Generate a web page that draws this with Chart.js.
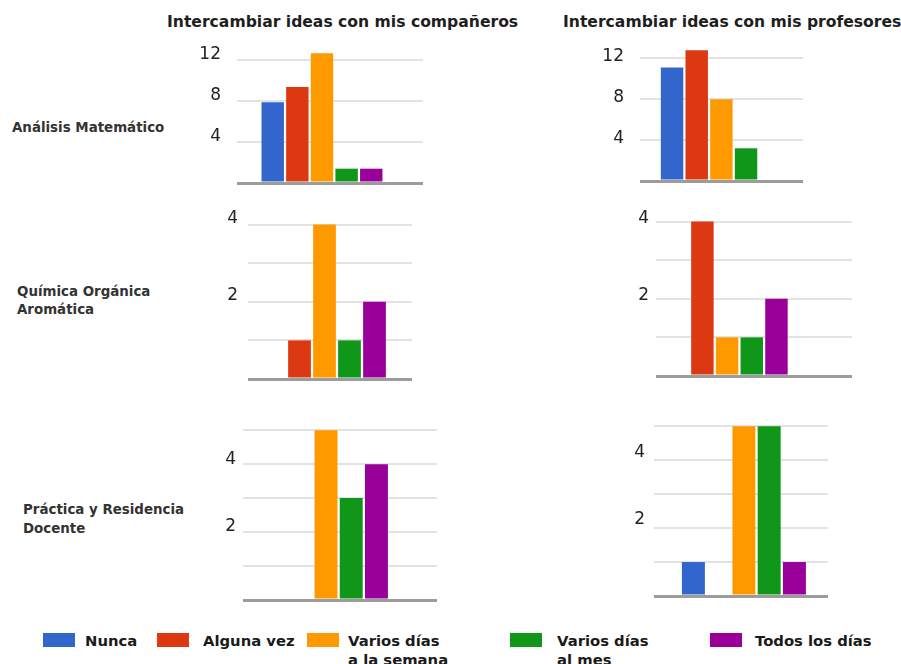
<!DOCTYPE html>
<html><head><meta charset="utf-8">
<script src="https://cdn.jsdelivr.net/npm/chart.js@4.4.1/dist/chart.umd.min.js"></script>
<style>
html,body{margin:0;padding:0;background:#fff;}
#wrap{position:relative;width:901px;height:664px;overflow:hidden;font-family:'DejaVu Sans',Verdana,sans-serif;}
canvas{position:absolute;}
.txt{position:absolute;white-space:nowrap;font-weight:bold;}
.box{position:absolute;}
</style></head><body><div id="wrap"></div>
<script>
// ---- data ----
const seriesNames = ['Nunca', 'Alguna vez', ['Varios días', 'a la semana'], ['Varios días', 'al mes'], 'Todos los días'];
const seriesColors = ['#3366cc', '#dc3912', '#ff9900', '#109618', '#990099'];
const columnTitles = ['Intercambiar ideas con mis compañeros', 'Intercambiar ideas con mis profesores'];
const rowTitles = [['Análisis Matemático'], ['Química Orgánica', 'Aromática'], ['Práctica y Residencia', 'Docente']];

const analisisCompaneros = [7.9, 9.4, 12.7, 1.4, 1.4];
const analisisProfesores = [11.1, 12.8, 8, 3.2, 0];
const quimicaCompaneros = [0, 1, 4, 1, 2];
const quimicaProfesores = [0, 4, 1, 1, 2];
const practicaCompaneros = [0, 0, 5, 3, 4];
const practicaProfesores = [1, 0, 5, 5, 1];

const topRowTicks = [4, 8, 12];
const lowerRowTicks = [2, 4];

// ---- layout (positions / styles) ----
const panels = [
  {values: analisisCompaneros, gridLeft: 237, gridRight: 423, baseline: 183, unit: 10.2, ymax: 13.5, step: 4, labels: topRowTicks, labelPad: 16, labelOffset: -6, xMin: -1.45, xMax: 6.10},
  {values: analisisProfesores, gridLeft: 640, gridRight: 803, baseline: 181, unit: 10.2, ymax: 13.5, step: 4, labels: topRowTicks, labelPad: 16, labelOffset: -2, xMin: -1.30, xMax: 5.31},
  {values: quimicaCompaneros, gridLeft: 248, gridRight: 412, baseline: 379, unit: 38.5, ymax: 4.3, step: 1, labels: lowerRowTicks, labelPad: 10, labelOffset: -6, xMin: -1.06, xMax: 5.5},
  {values: quimicaProfesores, gridLeft: 656, gridRight: 852, baseline: 376, unit: 38.5, ymax: 4.3, step: 1, labels: lowerRowTicks, labelPad: 7, labelOffset: -3, xMin: -0.88, xMax: 7.06},
  {values: practicaCompaneros, gridLeft: 243, gridRight: 437, baseline: 600, unit: 34, ymax: 5.3, step: 1, labels: lowerRowTicks, labelPad: 7, labelOffset: -5, xMin: -1.29, xMax: 6.40},
  {values: practicaProfesores, gridLeft: 654, gridRight: 828, baseline: 596, unit: 34, ymax: 5.3, step: 1, labels: lowerRowTicks, labelPad: 9, labelOffset: -8, xMin: -1.56, xMax: 5.33}
];
const titlePos = [{left: 167, top: 12}, {left: 563, top: 12}];
const rowPos = [{left: 12, top: 119, lh: 18}, {left: 17, top: 283, lh: 18}, {left: 23, top: 500, lh: 19}];
const legendPos = [{box: 43, text: 85}, {box: 157, text: 203}, {box: 307, text: 348}, {box: 510, text: 557}, {box: 710, text: 755}];

const wrap = document.getElementById('wrap');

function addText(str, left, top, size, lh, color) {
  const d = document.createElement('div');
  d.className = 'txt';
  d.style.left = left + 'px';
  d.style.top = top + 'px';
  d.style.fontSize = size + 'px';
  d.style.lineHeight = lh + 'px';
  d.style.color = color;
  d.innerHTML = str;
  wrap.appendChild(d);
  return d;
}

columnTitles.forEach((t, i) => addText(t, titlePos[i].left, titlePos[i].top, 15.6, 20, '#1e1e1e'));
rowTitles.forEach((lines, i) => addText(lines.join('<br>'), rowPos[i].left, rowPos[i].top, 13.4, rowPos[i].lh, '#333'));

function makePanel(p) {
  const AX = 50, PT = 30, PB = 30;
  const top = Math.round(p.baseline - p.ymax * p.unit - PT);
  const h = p.baseline - top + PB;
  const w = p.gridRight - p.gridLeft + AX;
  const c = document.createElement('canvas');
  c.width = w; c.height = h;
  c.style.width = w + 'px'; c.style.height = h + 'px';
  c.style.left = (p.gridLeft - AX) + 'px';
  c.style.top = top + 'px';
  wrap.appendChild(c);
  new Chart(c, {
    type: 'bar',
    data: {
      datasets: [{
        data: p.values.map((v, i) => ({x: i, y: v})),
        backgroundColor: seriesColors,
        borderWidth: 0,
        categoryPercentage: 1,
        barPercentage: 0.91
      }]
    },
    options: {
      responsive: false,
      animation: false,
      devicePixelRatio: 1,
      layout: {padding: {top: PT, bottom: PB, left: 0, right: 0}},
      plugins: {legend: {display: false}, tooltip: {enabled: false}},
      scales: {
        x: {type: 'linear', display: false, min: p.xMin, max: p.xMax, offset: false},
        y: {
          min: 0, max: p.ymax,
          border: {display: false},
          grid: {
            drawTicks: false,
            color: ctx => (ctx.tick && ctx.tick.value === 0) ? '#9c9c9c' : '#e3e3e3',
            lineWidth: ctx => (ctx.tick && ctx.tick.value === 0) ? 3 : 2
          },
          ticks: {
            stepSize: p.step,
            includeBounds: false,
            autoSkip: false,
            padding: p.labelPad,
            labelOffset: p.labelOffset,
            color: '#222',
            font: {family: 'DejaVu Sans', size: 17},
            callback: v => p.labels.includes(v) ? String(v) : ''
          },
          afterFit: s => { s.width = AX; }
        }
      }
    }
  });
}
panels.forEach(makePanel);

// legend
seriesNames.forEach((name, i) => {
  const b = document.createElement('div');
  b.className = 'box';
  b.style.left = legendPos[i].box + 'px';
  b.style.top = '633px';
  b.style.width = '32px';
  b.style.height = '14px';
  b.style.background = seriesColors[i];
  wrap.appendChild(b);
  const lines = Array.isArray(name) ? name : [name];
  addText(lines.join('<br>'), legendPos[i].text, 631, 14.8, 19, '#1a1a1a');
});
</script>
</body></html>
